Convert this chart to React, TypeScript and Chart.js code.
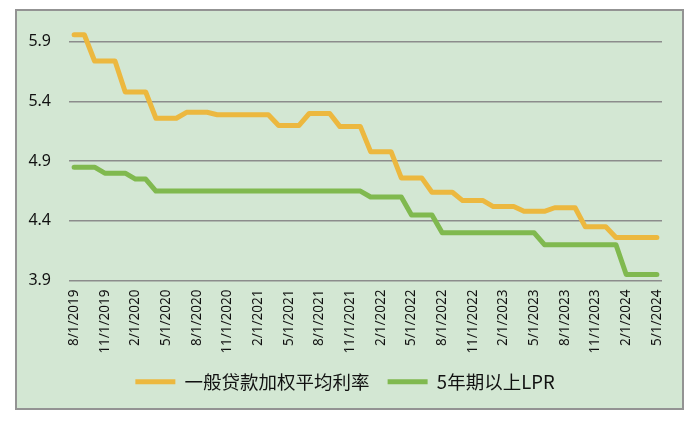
import React, { useEffect, useRef } from "react";
import { Chart, registerables } from "chart.js";

Chart.register(...registerables);

const months = [
  "8/1/2019", "9/1/2019", "10/1/2019", "11/1/2019", "12/1/2019",
  "1/1/2020", "2/1/2020", "3/1/2020", "4/1/2020", "5/1/2020", "6/1/2020",
  "7/1/2020", "8/1/2020", "9/1/2020", "10/1/2020", "11/1/2020", "12/1/2020",
  "1/1/2021", "2/1/2021", "3/1/2021", "4/1/2021", "5/1/2021", "6/1/2021",
  "7/1/2021", "8/1/2021", "9/1/2021", "10/1/2021", "11/1/2021", "12/1/2021",
  "1/1/2022", "2/1/2022", "3/1/2022", "4/1/2022", "5/1/2022", "6/1/2022",
  "7/1/2022", "8/1/2022", "9/1/2022", "10/1/2022", "11/1/2022", "12/1/2022",
  "1/1/2023", "2/1/2023", "3/1/2023", "4/1/2023", "5/1/2023", "6/1/2023",
  "7/1/2023", "8/1/2023", "9/1/2023", "10/1/2023", "11/1/2023", "12/1/2023",
  "1/1/2024", "2/1/2024", "3/1/2024", "4/1/2024", "5/1/2024",
];

const loanRate = [
  5.96, 5.96, 5.74, 5.74, 5.74,
  5.48, 5.48, 5.48, 5.26, 5.26, 5.26,
  5.31, 5.31, 5.31, 5.29, 5.29, 5.29,
  5.29, 5.29, 5.29, 5.2, 5.2, 5.2,
  5.3, 5.3, 5.3, 5.19, 5.19, 5.19,
  4.98, 4.98, 4.98, 4.76, 4.76, 4.76,
  4.64, 4.64, 4.64, 4.57, 4.57, 4.57,
  4.52, 4.52, 4.52, 4.48, 4.48, 4.48,
  4.51, 4.51, 4.51, 4.35, 4.35, 4.35,
  4.26, 4.26, 4.26, 4.26, 4.26,
];

const lpr5y = [
  4.85, 4.85, 4.85, 4.8, 4.8,
  4.8, 4.75, 4.75, 4.65, 4.65, 4.65,
  4.65, 4.65, 4.65, 4.65, 4.65, 4.65,
  4.65, 4.65, 4.65, 4.65, 4.65, 4.65,
  4.65, 4.65, 4.65, 4.65, 4.65, 4.65,
  4.6, 4.6, 4.6, 4.6, 4.45, 4.45,
  4.45, 4.3, 4.3, 4.3, 4.3, 4.3,
  4.3, 4.3, 4.3, 4.3, 4.3, 4.2,
  4.2, 4.2, 4.2, 4.2, 4.2, 4.2,
  4.2, 3.95, 3.95, 3.95, 3.95,
];

const yTicks = [3.9, 4.4, 4.9, 5.4, 5.9];
const seriesNames = ["一般贷款加权平均利率", "5年期以上LPR"];
const seriesColors = ["#ECB83F", "#80B94F"];

export default function App() {
  const ref = useRef<HTMLCanvasElement>(null);

  useEffect(() => {
    const canvas = ref.current;
    if (!canvas) return;
    const chart = new Chart(canvas, {
      type: "line",
      data: {
        labels: months,
        datasets: [
          {
            label: seriesNames[0],
            data: loanRate,
            borderColor: seriesColors[0],
            backgroundColor: seriesColors[0],
            borderWidth: 5,
            pointRadius: 0,
            borderCapStyle: "round",
            borderJoinStyle: "round",
            tension: 0,
          },
          {
            label: seriesNames[1],
            data: lpr5y,
            borderColor: seriesColors[1],
            backgroundColor: seriesColors[1],
            borderWidth: 5,
            pointRadius: 0,
            borderCapStyle: "round",
            borderJoinStyle: "round",
            tension: 0,
          },
        ],
      },
      options: {
        animation: false,
        responsive: false,
        layout: { padding: { left: 28, right: 38, top: 30, bottom: 20 } },
        scales: {
          x: {
            offset: true,
            grid: { display: false, drawTicks: false },
            border: { display: false },
            ticks: {
              autoSkip: false,
              minRotation: 90,
              maxRotation: 90,
              padding: 9,
              color: "#111111",
              font: { family: "'Noto Sans'", size: 13.5 },
              callback: (_v: any, i: number) => (i % 3 === 0 ? months[i] : ""),
            },
            afterFit: (s: any) => {
              s.height = 74;
            },
          },
          y: {
            min: 3.9,
            max: 6.0,
            afterBuildTicks: (s: any) => {
              s.ticks = yTicks.map((v) => ({ value: v }));
            },
            afterFit: (s: any) => {
              s.width = 41;
            },
            grid: { color: "#8c8c8c", lineWidth: 1.5, drawTicks: false },
            border: { display: false },
            ticks: {
              padding: 18,
              color: "#111111",
              font: { family: "'Noto Sans'", size: 16 },
              callback: (v: any) => Number(v).toFixed(1),
            },
          },
        },
        plugins: {
          legend: {
            position: "bottom",
            labels: {
              usePointStyle: true,
              pointStyle: "line",
              pointStyleWidth: 40,
              padding: 18,
              color: "#111111",
              font: { family: "'Noto Sans CJK SC'", size: 18.5 },
            },
          },
          tooltip: { enabled: false },
        },
      },
    });
    return () => chart.destroy();
  }, []);

  return (
    <div
      style={{
        position: "fixed",
        left: 0,
        top: 0,
        width: 700,
        height: 421,
        background: "#ffffff",
      }}
    >
      <div
        style={{
          position: "absolute",
          left: 15,
          top: 9,
          width: 669,
          height: 401,
          boxSizing: "border-box",
          border: "2px solid #939393",
          background: "#d3e7d3",
        }}
      />
      <canvas
        ref={ref}
        width={700}
        height={421}
        style={{ position: "absolute", left: 0, top: 0, width: 700, height: 421 }}
      />
    </div>
  );
}
